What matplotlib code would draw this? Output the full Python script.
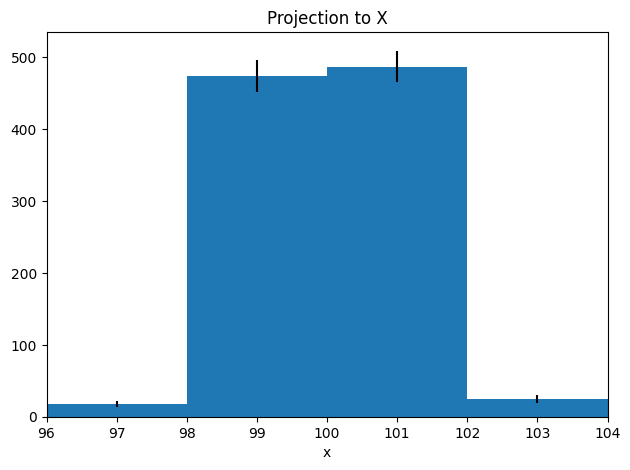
import numpy as np
import matplotlib.pyplot as plt

bin_edges = [96, 98, 100, 102, 104]
counts = [18, 474, 487, 25]

centers = [(a + b) / 2 for a, b in zip(bin_edges[:-1], bin_edges[1:])]
widths = [b - a for a, b in zip(bin_edges[:-1], bin_edges[1:])]
errors = np.sqrt(counts)

fig, ax = plt.subplots(figsize=(6.3, 4.7), dpi=100)
ax.bar(bin_edges[:-1], counts, width=widths, align='edge', color='#1f77b4')
ax.errorbar(centers, counts, yerr=errors, fmt='none', ecolor='black')
ax.set_xlim(96, 104)
ax.set_xticks(list(range(96, 105)))
ax.set_title('Projection to X')
ax.set_xlabel('x')
fig.subplots_adjust(left=46.5 / 630, right=607.5 / 630, top=1 - 32.3 / 470, bottom=1 - 417 / 470)
fig.savefig('out.png')
